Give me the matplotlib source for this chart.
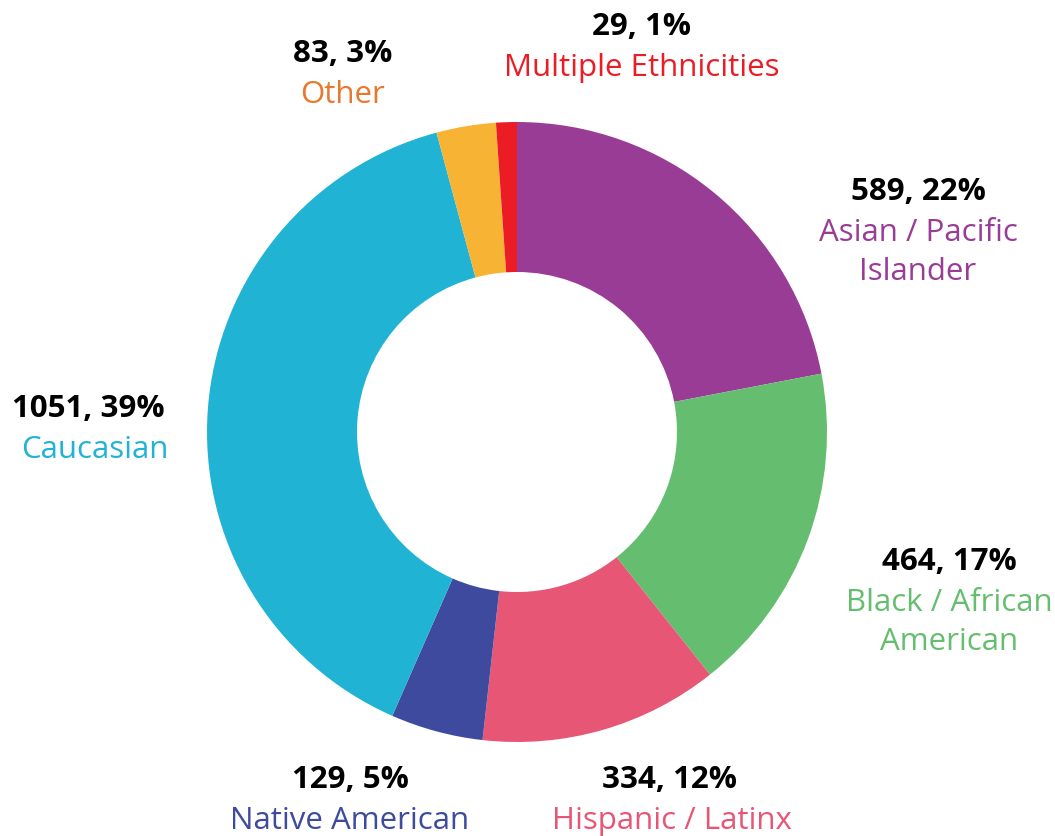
import matplotlib
matplotlib.use('Agg')
import matplotlib.pyplot as plt

# data
categories = ['Asian / Pacific\nIslander', 'Black / African\nAmerican', 'Hispanic / Latinx',
              'Native American', 'Caucasian', 'Other', 'Multiple Ethnicities']
counts = [589, 464, 334, 129, 1051, 83, 29]
percents = [22, 17, 12, 5, 39, 3, 1]

wedge_colors = ['#993C96', '#65BE6F', '#E85676', '#3E4A9E', '#21B3D3', '#F7B334', '#EC1C24']
label_colors = ['#993C96', '#65BE6F', '#E85676', '#3E4A9E', '#21B3D3', '#E8782C', '#EC1C24']

# label anchors: x centre of number, x centre of name, baseline of number (pixels, top-left origin)
label_pos = [(918, 918, 200), (949, 949, 570), (670, 672, 788), (350, 350, 788),
             (88, 95, 417), (343, 343, 62), (642, 642, 35)]

W, H = 1055, 836
plt.rcParams['font.family'] = ['Open Sans', 'DejaVu Sans']

fig = plt.figure(figsize=(W / 100, H / 100), dpi=100)
ax = fig.add_axes([0, 0, 1, 1])

ax.pie(counts, colors=wedge_colors, startangle=90, counterclock=False,
       center=(517, H - 432), radius=310,
       wedgeprops=dict(width=150, edgecolor='none'))
ax.set_xlim(0, W)
ax.set_ylim(0, H)
ax.set_aspect('equal')
ax.axis('off')

fs = 22.5
for cat, n, p, col, (xn, xl, yb) in zip(categories, counts, percents, label_colors, label_pos):
    ax.text(xn, H - yb, f'{n}, {p}%', ha='center', va='baseline', fontsize=fs,
            fontweight='bold', color='black')
    for i, line in enumerate(cat.split('\n')):
        ax.text(xl, H - yb - 41 - 39 * i, line, ha='center', va='baseline',
                fontsize=fs, color=col)

fig.savefig('out.png', dpi=100)
